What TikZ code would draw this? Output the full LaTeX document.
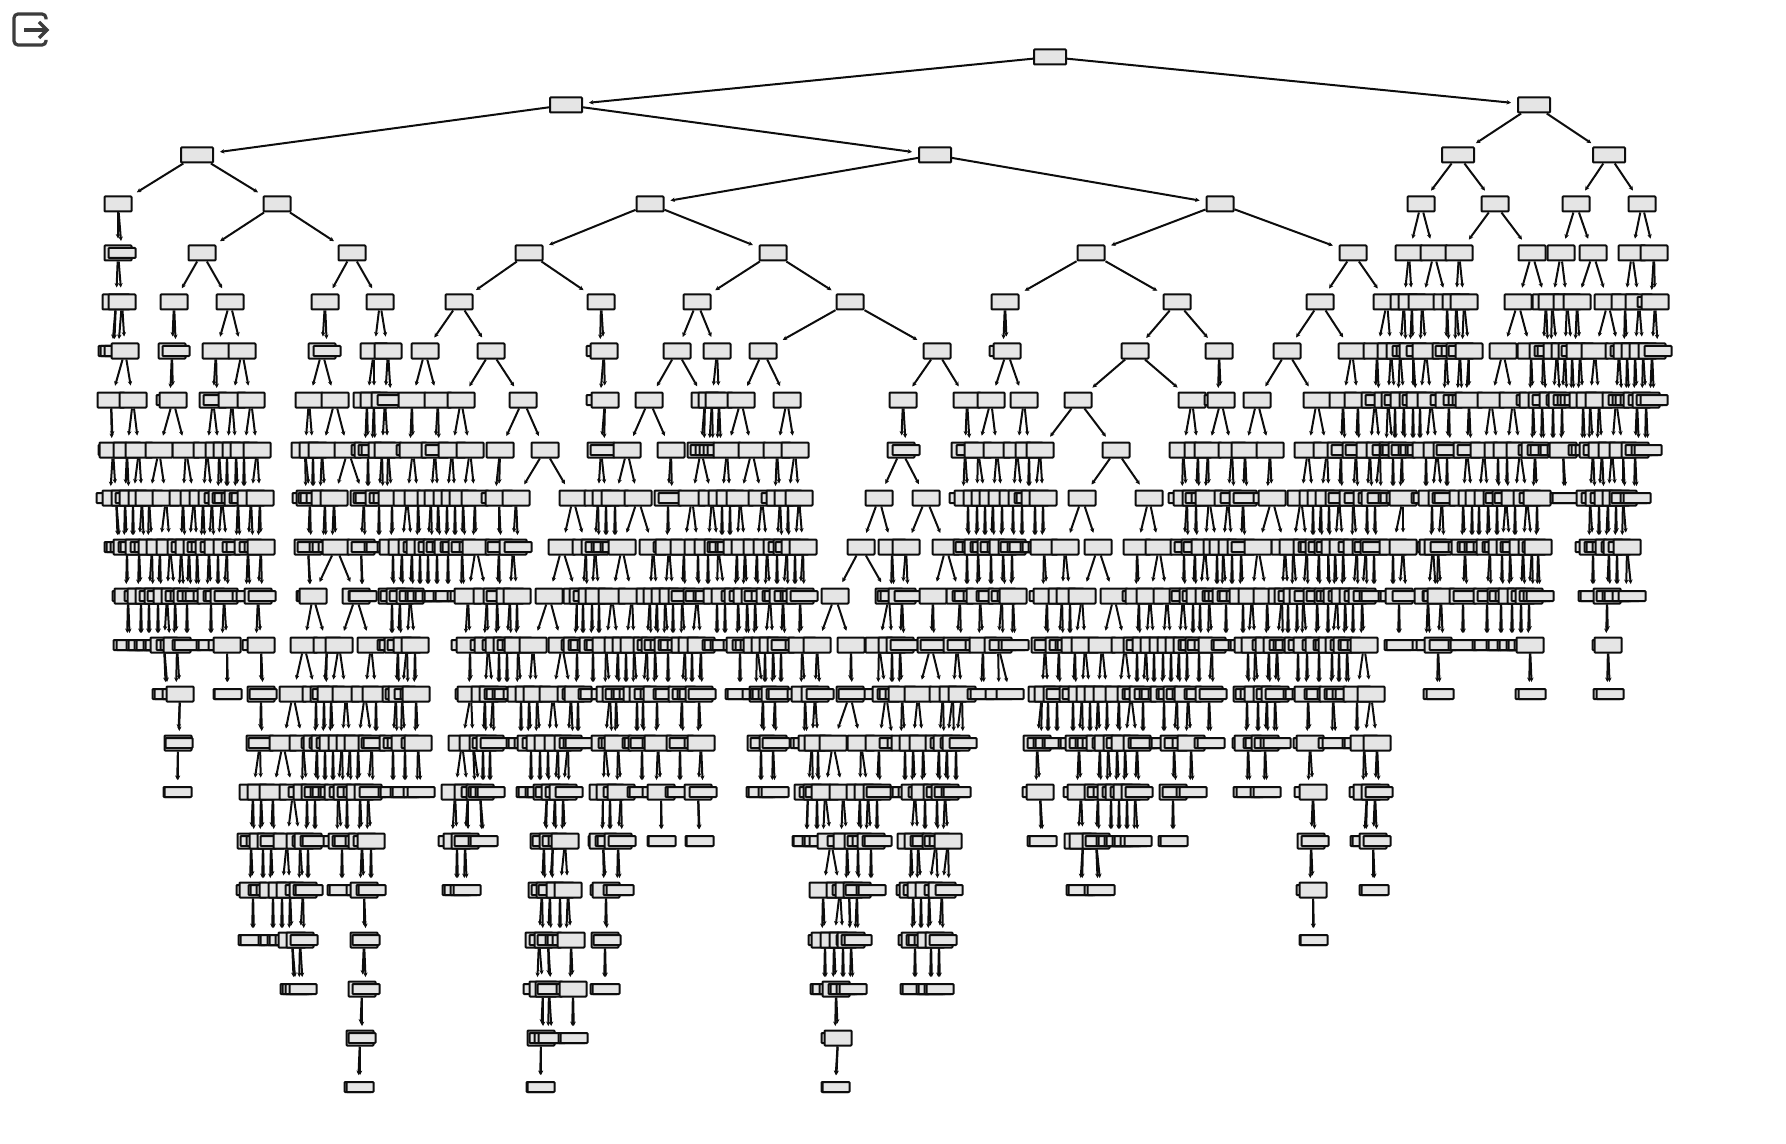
\documentclass[tikz,border=0pt]{standalone}
\usepackage{tikz}
\usetikzlibrary{arrows.meta}
\definecolor{IconGrey}{HTML}{3C3C3C}
\tikzset{
    sp/.style={draw=black!95, line width=1pt, fill=black!10, rounded corners=0.4pt, inner sep=0pt, minimum width=13.5pt, minimum height=7.5pt},
    lf/.style={sp, minimum height=5pt},
    wd/.style={sp, minimum width=16pt},
    arr/.style={-{Stealth[length=2.2pt,width=2.2pt]}, line width=1pt, draw=black!95, shorten >=3pt},
    icon/.style={draw=IconGrey, line width=1.6pt}
}
% one row of the tree: parent / left child / its look / right child / its look
\newcommand{\kids}[3]{%
    \pgfmathtruncatemacro{\nextlev}{#1+1}%
    \foreach \p/\a/\sa/\b/\sb in {#3}{%
        \node[\sa] (n\nextlev-\a) at (\a,#2) {};
        \draw[arr] (n#1-\p) -- (n\nextlev-\a);
        \node[\sb] (n\nextlev-\b) at (\b,#2) {};
        \draw[arr] (n#1-\p) -- (n\nextlev-\b);
    }%
}
\begin{document}
\begin{tikzpicture}[x=0.5pt, y=-0.5pt]
    \useasboundingbox (0,0) rectangle (1786,1144);

    % Icon in the corner
    \draw[icon, rounded corners=2pt] (46,19.5) |- (14,14) |- (46,45) -- (46,40);
    \draw[icon] (24,30) -- (47,30);
    \draw[icon] (39,22) -- (47,30) -- (39,38);

    % Root and the upper levels
    \node[wd] (n0-1050) at (1050,57) {};
    \kids{0}{105}{1050/566/wd/1534/wd}
    \kids{1}{155}{566/197/wd/935/wd, 1534/1458/wd/1609/wd}
    \kids{2}{204}{197/118/sp/277/sp, 935/650/sp/1220/sp, 1458/1421/sp/1495/sp, 1609/1576/sp/1642/sp}
    \kids{3}{253}{118/118/sp/122/lf, 277/202/sp/352/sp, 650/529/sp/773/sp, 1220/1091/sp/1353/sp,
        1421/1409/sp/1434/sp, 1495/1459/sp/1532/sp, 1576/1561/sp/1593/sp, 1642/1632/sp/1654/sp}
    \kids{4}{302}{118/116/sp/122/sp, 202/174/sp/230/sp, 352/325/sp/380/sp, 529/459/sp/601/sp, 773/697/sp/850/sp,
        1091/1005/sp/1177/sp, 1353/1320/sp/1387/sp, 1409/1404/sp/1412/sp, 1434/1422/sp/1447/sp, 1459/1456/sp/1464/sp,
        1532/1518/sp/1546/sp, 1561/1552/sp/1567/sp, 1593/1577/sp/1608/sp, 1632/1625/sp/1639/sp, 1654/1651/lf/1655/sp}
    \kids{5}{351}{116/112/lf/114/lf, 122/118/lf/125/sp, 174/172/sp/176/lf, 230/216/sp/242/sp, 325/322/sp/327/lf,
        380/374/sp/388/sp, 459/425/sp/491/sp, 601/600/lf/604/sp, 697/677/sp/717/sp, 850/763/sp/937/sp,
        1005/1003/lf/1007/sp, 1177/1135/sp/1219/sp, 1320/1287/sp/1352/sp, 1387/1377/sp/1391/sp, 1404/1400/sp/1406/lf,
        1412/1410/lf/1413/sp, 1422/1420/lf/1426/sp, 1447/1446/sp/1449/lf, 1456/1455/lf/1460/sp, 1464/1462/lf/1469/sp,
        1518/1503/sp/1531/sp, 1546/1543/sp/1548/lf, 1552/1551/lf/1557/sp, 1567/1565/sp/1572/sp, 1577/1575/lf/1580/sp,
        1608/1595/sp/1619/sp, 1625/1624/lf/1627/sp, 1639/1635/sp/1643/sp, 1655/1652/sp/1658/lf}
    \kids{6}{400}{125/111/sp/133/sp, 172/170/lf/173/sp, 216/213/sp/217/lf, 242/232/sp/251/sp, 322/309/sp/335/sp,
        374/367/sp/374/sp, 388/385/sp/391/lf, 425/412/sp/438/sp, 491/461/sp/523/sp, 604/600/lf/605/sp,
        677/649/sp/705/sp, 717/712/sp/719/sp, 763/741/sp/787/sp, 937/903/sp/967/sp, 1007/991/sp/1024/sp,
        1135/1078/sp/1192/sp, 1219/1218/lf/1221/sp, 1287/1257/sp/1317/sp, 1352/1343/sp/1358/sp, 1377/1375/sp/1379/lf,
        1391/1388/sp/1395/sp, 1400/1398/lf/1404/sp, 1413/1413/sp/1416/lf, 1426/1420/sp/1431/sp, 1446/1444/lf/1449/sp,
        1460/1457/lf/1462/lf, 1469/1466/lf/1469/sp, 1503/1491/sp/1513/sp, 1531/1530/lf/1533/sp, 1543/1542/sp/1546/lf,
        1557/1553/sp/1560/lf, 1565/1562/sp/1567/lf, 1572/1571/lf/1574/lf, 1580/1578/lf/1583/sp, 1595/1590/sp/1599/sp,
        1619/1616/sp/1622/lf, 1627/1626/lf/1629/lf, 1635/1634/lf/1637/sp, 1643/1642/lf/1646/sp, 1652/1650/lf/1654/lf}

    % The dense middle levels
    \kids{7}{450}{111/112/lf/113/sp, 133/127/sp/139/sp, 173/159/sp/186/sp, 213/207/sp/219/sp, 232/227/sp/236/sp,
        251/244/sp/257/sp, 309/305/sp/313/sp, 335/322/sp/348/sp, 367/365/lf/368/sp, 374/372/lf/375/lf,
        385/382/sp/388/sp, 412/410/lf/413/sp, 438/435/sp/439/lf, 461/452/sp/470/sp, 523/500/sp/545/sp,
        605/601/sp/604/lf, 649/627/sp/671/sp, 705/701/sp/704/lf, 712/709/lf/713/lf, 719/717/lf/721/lf,
        741/727/sp/752/sp, 787/777/sp/795/sp, 903/901/sp/906/lf, 967/965/sp/970/lf, 991/978/sp/997/sp,
        1024/1017/sp/1029/sp, 1078/1040/sp/1116/sp, 1192/1183/sp/1198/sp, 1221/1208/sp/1232/sp, 1257/1245/sp/1270/sp,
        1317/1308/sp/1327/sp, 1343/1341/sp/1345/lf, 1358/1356/sp/1359/lf, 1375/1370/sp/1380/sp, 1388/1386/lf/1393/sp,
        1395/1394/lf/1396/lf, 1404/1402/sp/1405/lf, 1413/1412/lf/1414/lf, 1420/1419/lf/1421/lf, 1431/1426/sp/1437/sp,
        1449/1447/sp/1450/lf, 1469/1467/sp/1471/lf, 1491/1484/sp/1498/sp, 1513/1507/sp/1520/sp, 1533/1532/lf/1535/sp,
        1542/1541/lf/1544/lf, 1553/1552/lf/1554/lf, 1562/1561/lf/1563/sp, 1583/1582/lf/1585/lf, 1590/1589/lf/1593/sp,
        1599/1597/lf/1602/sp, 1616/1612/sp/1623/sp, 1637/1635/sp/1639/lf, 1646/1645/lf/1648/lf}
    \kids{8}{498}{113/110/lf/116/sp, 127/125/sp/129/lf, 139/133/sp/142/sp, 159/149/sp/166/sp, 186/183/sp/194/sp,
        207/203/sp/212/sp, 219/218/lf/222/sp, 227/226/lf/228/lf, 236/235/lf/238/sp, 244/243/lf/245/lf,
        257/251/sp/260/sp, 305/306/lf/310/sp, 313/312/lf/314/lf, 322/320/lf/325/sp, 348/334/sp/364/sp,
        368/367/lf/369/lf, 382/379/sp/383/lf, 388/387/lf/392/sp, 413/407/sp/418/sp, 435/431/sp/438/sp,
        452/447/sp/455/sp, 470/463/sp/475/sp, 500/495/lf/499/sp, 545/516/sp/573/sp, 601/598/sp/606/sp,
        627/615/sp/638/sp, 671/668/sp/672/lf, 701/692/sp/712/sp, 727/722/sp/730/sp, 752/740/sp/762/sp,
        777/775/lf/780/sp, 795/788/sp/799/sp, 901/879/sp/926/sp, 965/963/lf/968/sp, 978/977/sp/985/sp,
        997/993/sp/1002/sp, 1017/1013/sp/1022/sp, 1029/1028/lf/1030/lf, 1040/1035/sp/1043/sp, 1116/1082/sp/1149/sp,
        1183/1182/lf/1187/sp, 1198/1196/sp/1199/lf, 1208/1205/lf/1209/sp, 1232/1228/sp/1234/lf, 1245/1243/sp/1247/lf,
        1270/1267/lf/1272/sp, 1308/1301/sp/1313/sp, 1327/1321/sp/1329/sp, 1341/1339/sp/1342/lf, 1356/1353/sp/1358/lf,
        1370/1367/sp/1372/lf, 1380/1375/sp/1381/lf, 1393/1392/lf/1394/lf, 1402/1400/lf/1403/sp, 1426/1425/lf/1427/lf,
        1437/1432/sp/1442/sp, 1447/1446/lf/1448/lf, 1467/1463/sp/1472/sp, 1484/1479/sp/1488/sp, 1498/1497/sp/1499/lf,
        1507/1506/sp/1508/lf, 1520/1515/sp/1527/sp, 1535/1533/lf/1537/sp, 1563/1564/lf/1566/lf, 1593/1590/sp/1595/lf,
        1602/1599/sp/1604/lf, 1612/1608/sp/1616/sp, 1623/1623/sp/1625/lf, 1635/1634/lf/1637/lf}
    \kids{9}{547}{116/118/lf/120/lf, 125/124/lf/127/sp, 133/132/lf/134/lf, 142/139/sp/144/lf, 149/148/lf/152/sp,
        166/160/sp/170/sp, 183/181/sp/185/lf, 194/189/sp/197/sp, 203/201/lf/205/lf, 212/209/sp/214/lf,
        222/218/sp/227/sp, 238/236/lf/240/lf, 251/248/sp/253/lf, 260/258/lf/261/sp, 310/308/sp/311/lf,
        325/323/lf/326/lf, 334/332/lf/336/sp, 364/361/sp/365/lf, 379/378/lf/380/lf, 392/391/lf/393/sp,
        407/402/sp/412/sp, 418/417/lf/420/sp, 431/428/sp/432/lf, 438/437/sp/440/lf, 447/446/lf/448/sp,
        455/454/lf/456/lf, 463/462/sp/465/lf, 475/473/lf/476/sp, 499/499/sp/501/lf, 516/513/sp/518/lf,
        573/562/sp/586/sp, 598/595/sp/599/lf, 606/605/lf/607/lf, 615/614/lf/616/lf, 638/622/sp/653/sp,
        668/667/lf/669/sp, 692/684/sp/698/sp, 712/708/sp/718/sp, 722/721/lf/723/lf, 730/729/lf/731/lf,
        740/737/sp/745/sp, 762/757/sp/767/sp, 780/777/sp/782/lf, 788/787/sp/789/lf, 799/795/sp/803/sp,
        879/861/sp/892/sp, 926/906/sp/946/sp, 968/967/sp/969/lf, 977/976/lf/978/sp, 985/984/lf/986/lf,
        993/991/sp/994/lf, 1002/1001/lf/1003/sp, 1013/1012/sp/1014/lf, 1022/1021/lf/1023/lf, 1035/1034/lf/1036/lf,
        1043/1042/lf/1044/sp, 1082/1065/sp/1098/sp, 1149/1137/sp/1159/sp, 1187/1184/sp/1188/lf, 1196/1195/sp/1197/lf,
        1209/1205/sp/1217/sp, 1228/1223/sp/1232/sp, 1243/1241/sp/1245/lf, 1272/1258/sp/1285/sp, 1301/1293/sp/1307/sp,
        1313/1312/lf/1314/lf, 1321/1319/sp/1322/lf, 1329/1328/sp/1330/lf, 1339/1335/sp/1343/sp, 1353/1352/lf/1357/sp,
        1367/1366/sp/1368/lf, 1375/1374/sp/1376/lf, 1403/1393/sp/1403/sp, 1432/1431/lf/1433/sp, 1442/1438/sp/1444/lf,
        1463/1462/lf/1465/sp, 1472/1471/lf/1473/lf, 1479/1478/lf/1480/lf, 1488/1487/lf/1490/sp, 1497/1496/lf/1498/lf,
        1506/1502/sp/1510/sp, 1515/1514/lf/1516/lf, 1527/1523/sp/1532/sp, 1537/1536/lf/1538/sp, 1590/1589/lf/1593/sp,
        1599/1598/lf/1600/lf, 1608/1606/lf/1609/sp, 1616/1615/lf/1617/sp, 1623/1622/lf/1627/sp}
    \kids{10}{596}{127/126/lf/128/sp, 139/138/lf/141/sp, 152/149/sp/153/lf, 160/158/sp/161/lf, 170/167/sp/175/sp,
        181/179/lf/184/lf, 189/187/sp/191/lf, 197/196/lf/199/lf, 209/207/lf/211/sp, 218/217/lf/219/lf,
        227/224/sp/228/lf, 248/246/lf/250/lf, 261/258/sp/262/lf, 308/310/lf/311/lf, 336/313/sp/356/sp,
        361/362/lf/363/lf, 393/392/sp/394/lf, 402/400/sp/403/lf, 412/410/sp/413/lf, 420/419/lf/421/lf,
        428/427/lf/429/lf, 437/436/lf/438/lf, 448/447/lf/449/lf, 462/461/lf/464/lf, 476/468/sp/487/sp,
        499/497/sp/500/lf, 513/510/sp/517/sp, 562/549/sp/577/sp, 586/583/sp/587/lf, 595/592/sp/599/sp,
        622/612/sp/632/sp, 653/650/sp/657/sp, 669/665/sp/673/sp, 684/682/sp/685/lf, 698/697/sp/699/lf,
        708/707/lf/709/lf, 718/717/sp/725/sp, 737/735/lf/738/sp, 745/743/lf/747/sp, 757/755/sp/758/lf,
        767/765/lf/770/sp, 777/776/lf/778/lf, 787/783/sp/788/lf, 795/794/lf/796/lf, 803/800/sp/804/lf,
        861/835/sp/889/sp, 892/891/lf/894/lf, 906/902/sp/908/lf, 946/933/sp/960/sp, 967/966/lf/968/lf,
        978/977/lf/980/sp, 991/990/lf/992/lf, 1003/1002/sp/1005/lf, 1012/1011/lf/1013/sp, 1044/1043/lf/1047/sp,
        1065/1062/sp/1070/sp, 1098/1082/sp/1114/sp, 1137/1136/lf/1139/sp, 1159/1150/sp/1167/sp, 1184/1183/sp/1185/lf,
        1195/1193/sp/1196/lf, 1205/1200/sp/1209/sp, 1217/1216/lf/1218/lf, 1223/1222/lf/1226/sp, 1232/1231/lf/1233/lf,
        1241/1240/lf/1243/sp, 1258/1252/sp/1267/sp, 1285/1282/sp/1288/sp, 1293/1292/lf/1297/sp, 1307/1303/sp/1308/lf,
        1319/1317/sp/1320/lf, 1328/1328/sp/1330/lf, 1335/1334/lf/1337/sp, 1343/1342/lf/1345/sp, 1357/1353/sp/1358/lf,
        1366/1362/sp/1367/lf, 1374/1373/lf/1375/lf, 1393/1392/lf/1394/lf, 1403/1399/sp/1406/lf, 1433/1428/sp/1436/lf,
        1438/1437/lf/1441/sp, 1465/1463/sp/1467/lf, 1490/1487/sp/1491/lf, 1502/1501/sp/1503/lf, 1510/1509/lf/1512/sp,
        1523/1521/sp/1525/lf, 1532/1529/sp/1533/lf, 1538/1537/lf/1540/lf, 1593/1592/lf/1594/lf, 1609/1607/sp/1610/lf,
        1617/1616/lf/1618/lf, 1627/1626/lf/1632/lf}
    \kids{11}{645}{128/127/lf/130/lf, 141/140/lf/142/lf, 149/148/lf/150/lf, 158/157/lf/159/lf, 167/164/sp/170/lf,
        175/174/lf/177/sp, 187/186/lf/188/lf, 211/210/lf/212/lf, 224/222/lf/227/sp, 258/256/lf/261/sp,
        313/304/sp/327/sp, 356/339/sp/371/sp, 392/391/lf/393/lf, 400/398/sp/401/lf, 410/407/sp/415/sp,
        468/465/lf/470/sp, 487/484/lf/488/sp, 497/496/lf/499/sp, 510/507/sp/511/lf, 517/516/lf/518/sp,
        549/533/sp/562/sp, 577/575/lf/577/sp, 583/582/lf/584/lf, 592/591/lf/593/sp, 599/598/lf/600/lf,
        612/606/sp/618/sp, 632/626/sp/634/sp, 650/647/sp/651/lf, 657/655/sp/658/lf, 665/664/lf/668/sp,
        673/672/lf/674/lf, 682/681/lf/685/sp, 697/692/sp/701/sp, 717/716/lf/718/lf, 725/724/lf/726/lf,
        738/737/lf/740/sp, 747/746/lf/749/lf, 755/754/lf/757/sp, 770/765/sp/773/sp, 783/781/sp/785/lf,
        800/799/lf/802/sp, 835/817/sp/851/sp, 889/879/sp/892/sp, 902/900/sp/904/lf, 933/931/sp/934/lf,
        960/957/sp/961/lf, 980/979/lf/983/sp, 1002/998/sp/1003/lf, 1013/1012/lf/1015/lf, 1047/1045/sp/1048/lf,
        1062/1059/sp/1063/lf, 1070/1069/lf/1071/lf, 1082/1075/sp/1085/sp, 1114/1102/sp/1125/sp, 1139/1137/sp/1140/lf,
        1150/1146/sp/1154/sp, 1167/1163/sp/1171/sp, 1183/1179/sp/1187/sp, 1193/1192/lf/1194/lf, 1200/1199/sp/1201/lf,
        1209/1208/lf/1212/sp, 1226/1225/lf/1227/lf, 1243/1242/lf/1244/lf, 1252/1248/sp/1255/sp, 1267/1266/lf/1269/sp,
        1282/1277/sp/1283/lf, 1288/1287/lf/1289/lf, 1297/1296/lf/1298/sp, 1303/1302/lf/1307/sp, 1317/1316/lf/1319/sp,
        1328/1327/lf/1329/lf, 1337/1332/sp/1339/sp, 1345/1344/lf/1347/sp, 1353/1352/lf/1354/lf, 1362/1361/lf/1364/sp,
        1399/1398/lf/1400/lf, 1428/1426/lf/1430/lf, 1441/1438/sp/1443/lf, 1463/1462/lf/1464/lf, 1487/1486/lf/1488/lf,
        1501/1500/lf/1502/lf, 1512/1511/lf/1513/lf, 1521/1520/lf/1522/lf, 1529/1528/lf/1530/sp, 1607/1606/lf/1608/sp}
    \kids{12}{694}{164/166/lf/168/lf, 177/176/lf/180/sp, 227/227/lf/228/lf, 261/261/sp/263/lf, 304/293/sp/316/sp,
        327/324/sp/326/lf, 339/331/sp/346/sp, 371/365/sp/376/sp, 398/396/sp/399/lf, 407/402/sp/408/lf,
        415/414/lf/416/sp, 470/469/lf/471/sp, 488/485/sp/493/sp, 499/498/lf/500/lf, 507/506/lf/508/lf,
        518/517/lf/521/sp, 533/529/sp/537/sp, 562/553/sp/571/sp, 577/576/lf/578/sp, 593/592/lf/594/lf,
        606/605/lf/610/sp, 618/616/sp/619/lf, 626/625/lf/627/lf, 634/633/lf/637/sp, 647/643/sp/648/lf,
        655/654/lf/657/sp, 668/667/lf/669/lf, 685/682/sp/686/lf, 692/691/lf/693/lf, 701/699/sp/702/lf,
        740/739/lf/741/lf, 757/756/lf/763/sp, 765/764/lf/766/lf, 773/772/lf/775/sp, 781/780/lf/782/lf,
        802/801/lf/805/sp, 817/815/sp/820/lf, 851/850/sp/852/lf, 879/878/lf/886/sp, 892/891/lf/893/lf,
        900/899/lf/902/sp, 931/918/sp/943/sp, 957/953/sp/962/sp, 983/981/lf/984/lf, 998/999/lf/1010/lf,
        1045/1042/sp/1048/sp, 1059/1057/sp/1060/lf, 1075/1073/sp/1076/lf, 1085/1082/sp/1090/sp, 1102/1098/sp/1107/sp,
        1125/1119/sp/1131/sp, 1137/1136/lf/1138/lf, 1146/1143/sp/1148/lf, 1154/1153/lf/1155/lf, 1163/1162/lf/1164/sp,
        1171/1170/lf/1172/lf, 1179/1177/sp/1180/lf, 1187/1186/lf/1188/sp, 1199/1198/lf/1200/lf, 1212/1209/sp/1213/lf,
        1248/1247/sp/1249/lf, 1255/1254/lf/1258/sp, 1269/1267/sp/1270/lf, 1277/1275/sp/1279/lf, 1298/1297/lf/1299/lf,
        1307/1306/lf/1308/sp, 1319/1318/lf/1320/lf, 1332/1331/lf/1333/sp, 1339/1338/lf/1340/lf, 1347/1346/lf/1349/lf,
        1364/1357/sp/1371/sp, 1438/1437/lf/1440/lf, 1530/1529/lf/1532/lf, 1608/1607/lf/1610/lf}

    % The thinning lower levels
    \kids{13}{743}{180/178/sp/179/lf, 261/260/sp/262/lf, 293/283/sp/303/sp, 316/315/lf/317/sp, 324/323/lf/325/sp,
        331/330/lf/333/sp, 346/342/sp/350/sp, 365/358/sp/372/sp, 376/375/lf/377/lf, 396/393/sp/397/lf,
        402/401/lf/405/sp, 416/415/lf/418/sp, 471/462/sp/473/sp, 485/483/sp/486/lf, 493/490/sp/494/lf,
        521/520/lf/522/lf, 529/528/lf/531/sp, 537/536/lf/540/sp, 553/548/sp/558/sp, 571/568/sp/573/lf,
        578/577/lf/579/lf, 610/605/sp/612/lf, 616/615/lf/618/sp, 637/636/lf/638/lf, 643/642/sp/644/lf,
        657/656/lf/658/sp, 682/680/sp/683/lf, 699/698/lf/701/sp, 763/761/sp/764/lf, 775/773/sp/776/lf,
        805/804/lf/807/lf, 815/812/sp/818/sp, 850/833/sp/861/sp, 886/879/sp/893/lf, 902/901/lf/905/sp,
        918/913/sp/923/sp, 943/939/sp/944/lf, 953/947/sp/954/lf, 962/956/sp/963/lf, 1042/1037/sp/1041/lf,
        1048/1047/lf/1049/lf, 1057/1056/lf/1058/lf, 1073/1072/lf/1074/lf, 1082/1079/sp/1083/lf, 1090/1089/lf/1091/lf,
        1098/1096/lf/1100/sp, 1107/1106/lf/1108/sp, 1119/1117/sp/1120/lf, 1131/1125/sp/1137/sp, 1143/1142/lf/1144/lf,
        1164/1163/lf/1165/lf, 1177/1174/sp/1178/lf, 1188/1186/lf/1191/sp, 1209/1208/lf/1211/lf, 1247/1246/lf/1248/sp,
        1258/1257/lf/1259/lf, 1267/1265/sp/1268/lf, 1275/1274/lf/1277/lf, 1308/1307/lf/1310/sp, 1333/1332/lf/1336/lf,
        1357/1356/lf/1358/lf, 1371/1364/sp/1377/sp}
    \kids{14}{792}{178/177/lf/178/lf, 260/253/sp/261/sp, 283/273/sp/293/sp, 303/302/lf/307/sp, 317/315/sp/318/lf,
        325/324/lf/326/lf, 333/332/lf/334/lf, 342/338/sp/343/lf, 350/347/sp/351/lf, 358/357/lf/360/sp,
        372/368/sp/373/lf, 393/392/lf/394/lf, 405/404/lf/406/lf, 418/417/lf/421/lf, 462/455/sp/468/sp,
        473/475/lf/480/sp, 483/482/lf/484/lf, 490/489/lf/491/lf, 531/530/lf/532/lf, 540/539/lf/541/lf,
        548/547/sp/549/lf, 558/555/sp/559/lf, 568/563/sp/569/lf, 605/603/sp/610/sp, 618/617/lf/621/sp,
        642/641/lf/643/lf, 658/656/lf/661/sp, 680/679/lf/681/lf, 701/698/sp/703/lf, 761/760/lf/762/lf,
        773/772/lf/775/lf, 812/808/sp/813/lf, 818/817/sp/819/lf, 833/825/sp/843/sp, 861/860/sp/868/sp,
        879/877/sp/880/lf, 905/904/lf/906/lf, 913/912/lf/915/sp, 923/922/lf/925/sp, 939/937/sp/940/lf,
        947/945/sp/948/lf, 956/955/lf/957/lf, 1037/1036/lf/1040/sp, 1079/1077/lf/1081/sp, 1100/1098/sp/1101/lf,
        1108/1107/lf/1111/sp, 1117/1116/lf/1119/sp, 1125/1124/lf/1127/sp, 1137/1135/sp/1139/lf, 1174/1173/sp/1176/lf,
        1191/1190/lf/1193/lf, 1248/1247/lf/1250/lf, 1265/1264/lf/1267/lf, 1310/1308/lf/1313/sp, 1364/1363/lf/1367/sp,
        1377/1375/sp/1379/lf}
    \kids{15}{841}{253/251/sp/254/lf, 261/260/lf/263/sp, 273/271/sp/274/lf, 293/287/sp/300/sp, 307/306/lf/308/sp,
        315/314/lf/316/lf, 338/337/lf/342/sp, 347/346/lf/348/lf, 360/359/lf/362/sp, 368/367/lf/371/sp,
        455/452/lf/457/sp, 468/465/sp/468/lf, 480/482/lf/484/lf, 547/544/sp/546/lf, 555/553/sp/556/lf,
        563/562/lf/565/sp, 603/602/lf/603/sp, 610/609/lf/611/lf, 621/618/sp/622/lf, 661/661/lf/662/lf,
        698/699/lf/700/lf, 808/806/lf/807/lf, 817/816/lf/818/lf, 825/823/lf/831/sp, 843/841/lf/847/sp,
        860/858/sp/861/lf, 868/866/lf/871/sp, 877/876/lf/878/lf, 915/911/sp/918/sp, 925/924/lf/926/lf,
        937/936/sp/938/lf, 945/943/lf/948/sp, 1040/1041/lf/1043/lf, 1081/1078/sp/1083/sp, 1098/1096/sp/1099/lf,
        1111/1110/lf/1112/lf, 1119/1118/lf/1120/lf, 1127/1126/lf/1128/lf, 1135/1134/lf/1138/lf, 1173/1172/lf/1174/lf,
        1313/1311/sp/1315/lf, 1367/1364/lf/1366/lf, 1375/1373/sp/1377/lf}
    \kids{16}{890}{251/250/lf/253/sp, 263/262/lf/264/lf, 271/270/lf/273/sp, 287/282/sp/290/sp, 300/299/lf/303/sp,
        308/307/lf/309/lf, 342/341/lf/343/lf, 362/360/lf/364/sp, 371/370/lf/372/lf, 457/456/lf/458/lf,
        465/464/lf/467/lf, 544/542/sp/545/lf, 553/550/sp/552/lf, 565/560/sp/568/sp, 603/604/lf/606/sp,
        618/617/lf/620/lf, 831/823/sp/840/sp, 847/846/lf/849/sp, 858/857/sp/859/lf, 871/870/lf/872/lf,
        911/910/lf/913/sp, 918/917/lf/921/sp, 936/929/sp/938/lf, 948/942/sp/949/lf, 1083/1080/lf/1082/lf,
        1096/1098/lf/1101/lf, 1311/1310/lf/1313/sp, 1373/1373/lf/1375/lf}
    \kids{17}{940}{253/252/lf/254/lf, 273/272/lf/274/lf, 282/281/lf/283/lf, 290/289/lf/292/sp, 303/300/sp/304/lf,
        364/364/sp/366/lf, 542/539/sp/543/lf, 550/548/sp/551/lf, 560/559/lf/561/lf, 568/566/lf/571/sp,
        606/605/sp/607/lf, 823/822/lf/825/sp, 840/834/sp/843/sp, 849/850/lf/851/sp, 857/855/lf/858/lf,
        913/912/lf/915/sp, 921/920/lf/922/lf, 929/928/lf/931/sp, 942/939/sp/943/lf, 1313/1313/lf/1314/lf}
    \kids{18}{989}{292/294/lf/296/lf, 300/299/lf/303/lf, 364/362/sp/366/lf, 539/537/lf/543/sp, 548/549/sp/551/lf,
        571/570/lf/573/sp, 605/604/lf/606/lf, 825/824/lf/826/lf, 834/833/lf/836/sp, 843/842/lf/844/lf,
        851/850/lf/853/lf, 915/914/lf/916/lf, 931/930/lf/932/lf, 939/938/lf/940/lf}
    \kids{19}{1038}{362/360/sp/362/lf, 543/541/sp/543/lf, 549/548/lf/552/lf, 573/572/lf/574/lf, 836/835/lf/838/sp}
    \kids{20}{1087}{360/358/lf/360/lf, 541/540/lf/541/lf, 838/835/lf/836/lf}
\end{tikzpicture}
\end{document}
